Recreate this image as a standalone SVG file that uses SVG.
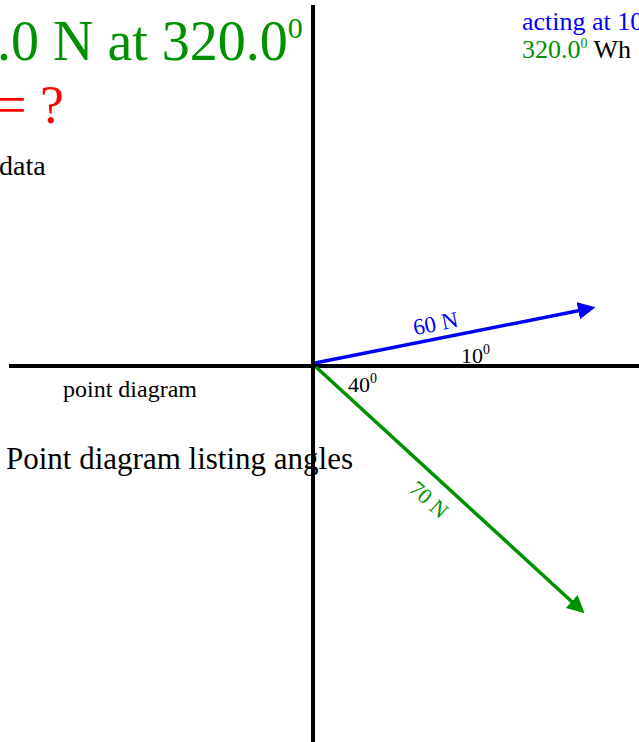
<svg xmlns="http://www.w3.org/2000/svg" width="639" height="742" viewBox="0 0 639 742">
<style>
text{font-family:"Liberation Serif","Times New Roman",serif}
.g{fill:#009000}.b{fill:#0000ff}.r{fill:#ff0000}.k{fill:#000}
.axis{stroke:#000;stroke-width:4;fill:none}
</style>
<defs>
<marker id="ab" markerWidth="5" markerHeight="5" refX="4" refY="2.5" orient="auto" markerUnits="strokeWidth"><path d="M0,0L5,2.5L0,5z" fill="#0000ff"/></marker>
<marker id="ag" markerWidth="5" markerHeight="5" refX="4" refY="2.5" orient="auto" markerUnits="strokeWidth"><path d="M0,0L5,2.5L0,5z" fill="#009000"/></marker>
</defs>
<rect width="639" height="742" fill="#fff"/>
<g id="title">
<text class="g" x="-3" y="60" font-size="56">.0 N at 320.0<tspan font-size="30" dy="-22">0</tspan></text>
<text class="r" x="-4" y="123" font-size="54">= ?</text>
<text class="k" x="-1" y="175" font-size="28">data</text>
<text class="b" x="522" y="30" font-size="26">acting at 10</text>
<text x="522" y="58" font-size="26"><tspan class="g">320.0</tspan><tspan class="g" font-size="14" dy="-10">0</tspan><tspan class="k" dy="10"> Wh</tspan></text>
<text class="k" x="63" y="397" font-size="24">point diagram</text>
<text class="k" x="6" y="469" font-size="31">Point diagram listing angles</text>
</g>
<g id="axes">
<line class="axis" x1="313" y1="5" x2="313" y2="742"/>
<line class="axis" x1="9" y1="366" x2="639" y2="366"/>
</g>
<g id="connectors">
<line x1="315" y1="363" x2="592" y2="308" stroke="#0000ff" stroke-width="3.5" marker-end="url(#ab)"/>
<line x1="316" y1="367" x2="582" y2="611" stroke="#009000" stroke-width="3.5" marker-end="url(#ag)"/>
</g>
<g id="labels">
<text class="b" font-size="23" text-anchor="middle" transform="translate(437,331) rotate(-11)">60 N</text>
<text class="k" x="461" y="363" font-size="22">10<tspan font-size="14" dy="-9">0</tspan></text>
<text class="k" x="348" y="392" font-size="22">40<tspan font-size="14" dy="-9">0</tspan></text>
<text class="g" font-size="22" text-anchor="middle" transform="translate(424,505) rotate(42)">70 N</text>
</g>
</svg>
